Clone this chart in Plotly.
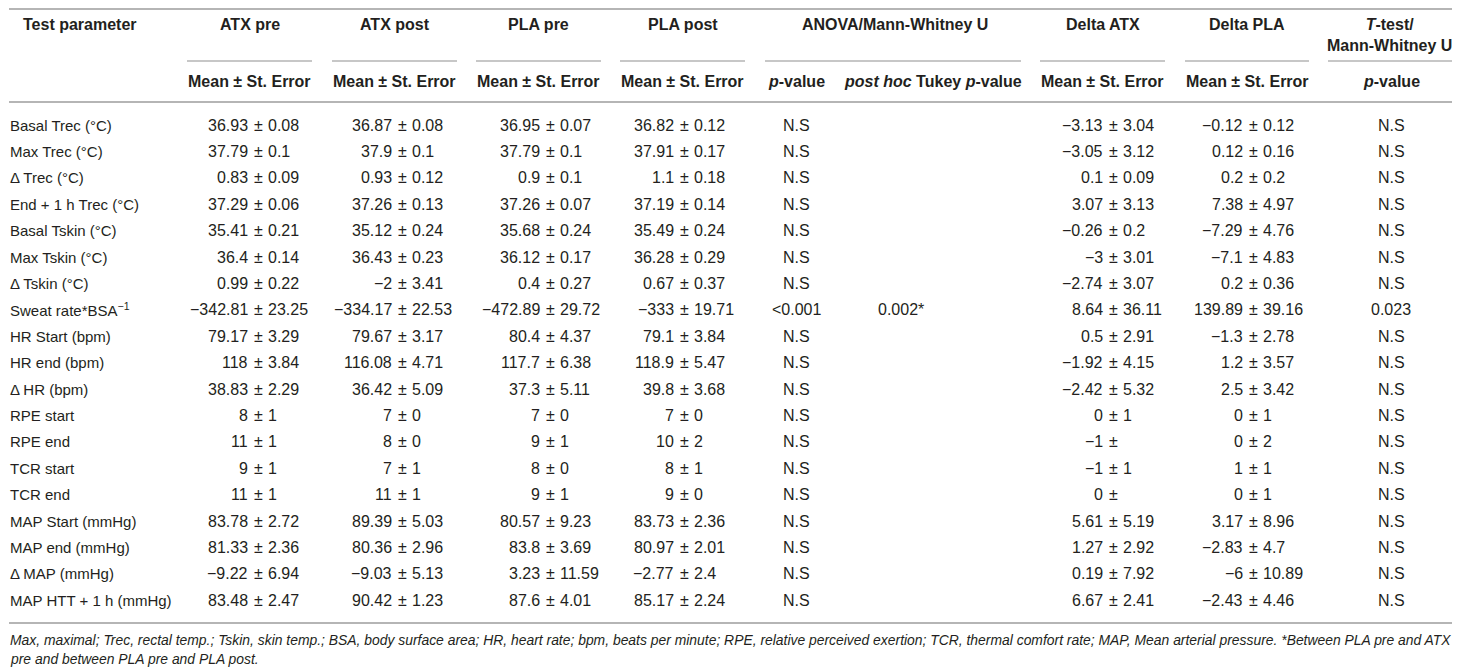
import plotly.graph_objects as go

# ---- table data ----
params = [
    "Basal Trec (°C)", "Max Trec (°C)", "Δ Trec (°C)", "End + 1 h Trec (°C)",
    "Basal Tskin (°C)", "Max Tskin (°C)", "Δ Tskin (°C)", "Sweat rate*BSA<sup>−1</sup>",
    "HR Start (bpm)", "HR end (bpm)", "Δ HR (bpm)", "RPE start", "RPE end",
    "TCR start", "TCR end", "MAP Start (mmHg)", "MAP end (mmHg)", "Δ MAP (mmHg)",
    "MAP HTT + 1 h (mmHg)",
]
atx_pre_mean = [36.93, 37.79, 0.83, 37.29, 35.41, 36.4, 0.99, -342.81, 79.17, 118, 38.83,
                8, 11, 9, 11, 83.78, 81.33, -9.22, 83.48]
atx_pre_se = [0.08, 0.1, 0.09, 0.06, 0.21, 0.14, 0.22, 23.25, 3.29, 3.84, 2.29,
              1, 1, 1, 1, 2.72, 2.36, 6.94, 2.47]
atx_post_mean = [36.87, 37.9, 0.93, 37.26, 35.12, 36.43, -2, -334.17, 79.67, 116.08, 36.42,
                 7, 8, 7, 11, 89.39, 80.36, -9.03, 90.42]
atx_post_se = [0.08, 0.1, 0.12, 0.13, 0.24, 0.23, 3.41, 22.53, 3.17, 4.71, 5.09,
               0, 0, 1, 1, 5.03, 2.96, 5.13, 1.23]
pla_pre_mean = [36.95, 37.79, 0.9, 37.26, 35.68, 36.12, 0.4, -472.89, 80.4, 117.7, 37.3,
                7, 9, 8, 9, 80.57, 83.8, 3.23, 87.6]
pla_pre_se = [0.07, 0.1, 0.1, 0.07, 0.24, 0.17, 0.27, 29.72, 4.37, 6.38, 5.11,
              0, 1, 0, 1, 9.23, 3.69, 11.59, 4.01]
pla_post_mean = [36.82, 37.91, 1.1, 37.19, 35.49, 36.28, 0.67, -333, 79.1, 118.9, 39.8,
                 7, 10, 8, 9, 83.73, 80.97, -2.77, 85.17]
pla_post_se = [0.12, 0.17, 0.18, 0.14, 0.24, 0.29, 0.37, 19.71, 3.84, 5.47, 3.68,
               0, 2, 1, 0, 2.36, 2.01, 2.4, 2.24]
anova_p = ["N.S"] * 7 + ["<0.001"] + ["N.S"] * 11
tukey_p = [""] * 7 + ["0.002*"] + [""] * 11
delta_atx_mean = [-3.13, -3.05, 0.1, 3.07, -0.26, -3, -2.74, 8.64, 0.5, -1.92, -2.42,
                  0, -1, -1, 0, 5.61, 1.27, 0.19, 6.67]
delta_atx_se = [3.04, 3.12, 0.09, 3.13, 0.2, 3.01, 3.07, 36.11, 2.91, 4.15, 5.32,
                1, None, 1, None, 5.19, 2.92, 7.92, 2.41]
delta_pla_mean = [-0.12, 0.12, 0.2, 7.38, -7.29, -7.1, 0.2, 139.89, -1.3, 1.2, 2.5,
                  0, 0, 1, 0, 3.17, -2.83, -6, -2.43]
delta_pla_se = [0.12, 0.16, 0.2, 4.97, 4.76, 4.83, 0.36, 39.16, 2.78, 3.57, 3.42,
                1, 2, 1, 1, 8.96, 4.7, 10.89, 4.46]
ttest_p = ["N.S"] * 7 + ["0.023"] + ["N.S"] * 11

header_top = ["Test parameter", "ATX pre", "ATX post", "PLA pre", "PLA post",
              "ANOVA/Mann-Whitney U", "Delta ATX", "Delta PLA",
              "<i>T</i>-test/<br>Mann-Whitney U"]
header_sub = ["Mean ± St. Error"] * 4 + ["<i>p</i>-value", "<i>post hoc</i> Tukey <i>p</i>-value"] \
    + ["Mean ± St. Error"] * 2 + ["<i>p</i>-value"]
footnote = [
    "Max, maximal; Trec, rectal temp.; Tskin, skin temp.; BSA, body surface area; HR, heart rate; "
    "bpm, beats per minute; RPE, relative perceived exertion; TCR, thermal comfort rate; MAP, Mean "
    "arterial pressure. *Between PLA pre and ATX",
    "pre and between PLA pre and PLA post.",
]

# ---- layout (window pixels; the page body has an 8px margin) ----
W, H, OFF = 1460, 669, 8
FONT = "Liberation Sans, Arial, sans-serif"
TXT = "#231f20"
RULE = "#b5b5b5"
LEFT = 9
ROW_Y0, ROW_H = 125, 26.4
top_x = [80, 249.5, 394.5, 538.5, 682.5, 895, 1102.5, 1247, 1389]
sub_x = [249.5, 394.5, 538.5, 682.5, 796, 933, 1102.5, 1247, 1391]
segments = [(187, 312), (332, 457), (476, 601), (620, 745), (765, 1021),
            (1040, 1165), (1185, 1309), (1328, 1457)]
pm_cols = [
    (258, atx_pre_mean, atx_pre_se), (402, atx_post_mean, atx_post_se),
    (550, pla_pre_mean, pla_pre_se), (684, pla_post_mean, pla_post_se),
    (1113, delta_atx_mean, delta_atx_se), (1253, delta_pla_mean, delta_pla_se),
]


def fmt(v):
    return f"{v:g}".replace("-", "−")


def row_y(i):
    return ROW_Y0 + ROW_H * i


fig = go.Figure()
ann = []


def text(x, y, s, anchor="center", size=15, bold=False, italic=False):
    if bold:
        s = f"<b>{s}</b>"
    if italic:
        s = f"<i>{s}</i>"
    ann.append(dict(x=x, y=y, xref="x", yref="y", text=s, showarrow=False,
                    xanchor=anchor, yanchor="middle", borderpad=0,
                    font=dict(family=FONT, size=size, color=TXT)))


# headers
for x, s in zip(top_x, header_top):
    text(x, 35 if "<br>" in s else 24, s, size=16, bold=True)
for x, s in zip(sub_x, header_sub):
    text(x, 81, s, size=16, bold=True)

# body
for i, p in enumerate(params):
    y = row_y(i)
    text(LEFT, y, p, anchor="left")
    for x, means, ses in pm_cols:
        text(x - 9, y, fmt(means[i]), anchor="right", size=16)
        text(x, y, "±", size=16)
        if ses[i] is not None:
            text(x + 9, y, fmt(ses[i]), anchor="left", size=16)
    text(796, y, anova_p[i], size=16)
    if tukey_p[i]:
        text(901, y, tukey_p[i], size=16)
    text(1391, y, ttest_p[i], size=16)

# footnote
text(LEFT, 640, footnote[0], anchor="left", size=13.9, italic=True)
text(LEFT, 659, footnote[1], anchor="left", size=13.9, italic=True)

shapes = [dict(type="line", xref="x", yref="y", x0=a, x1=b, y0=61, y1=61,
               line=dict(color=RULE, width=1.5)) for a, b in segments]
for yy in (9, 102, 623):
    shapes.append(dict(type="line", xref="x", yref="y", x0=LEFT, x1=1457, y0=yy, y1=yy,
                       line=dict(color=RULE, width=1.8)))

# the figure sits at (8, 8) in the window; axis units equal window pixels
fig.update_layout(
    width=W, height=H,
    margin=dict(l=0, r=0, t=0, b=0),
    paper_bgcolor="white", plot_bgcolor="white",
    xaxis=dict(range=[OFF, W + OFF], visible=False, fixedrange=True),
    yaxis=dict(range=[H + OFF, OFF], visible=False, fixedrange=True),
    annotations=ann, shapes=shapes, showlegend=False,
)

fig.write_html("out.html")
